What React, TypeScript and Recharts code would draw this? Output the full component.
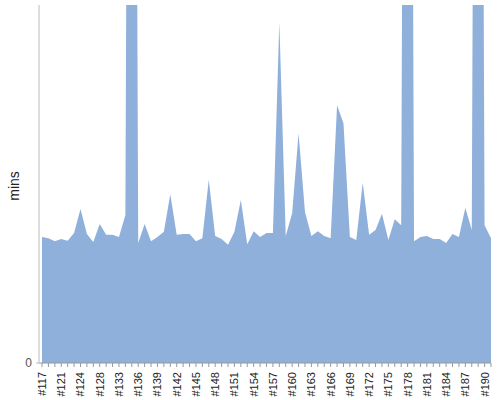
import { AreaChart, Area, XAxis, YAxis } from 'recharts';

// build labels (a few builds missing before #133)
const builds = [
  '#117', '#118', '#120', '#121', '#122', '#123', '#124', '#125', '#127', '#128',
  '#130', '#131', '#133', '#134', '#135', '#136', '#137', '#138', '#139', '#140',
  '#141', '#142', '#143', '#144', '#145', '#146', '#147', '#148', '#149', '#150',
  '#151', '#152', '#153', '#154', '#155', '#156', '#157', '#158', '#159', '#160',
  '#161', '#162', '#163', '#164', '#165', '#166', '#167', '#168', '#169', '#170',
  '#171', '#172', '#173', '#174', '#175', '#176', '#177', '#178', '#179', '#180',
  '#181', '#182', '#183', '#184', '#185', '#186', '#187', '#188', '#189', '#190',
  '#191',
];

// build duration in minutes
const durations = [
  21.1, 20.9, 20.4, 20.8, 20.5, 21.8, 25.8, 21.6, 20.3, 23.3,
  21.5, 21.5, 21.1, 24.8, 300, 20.1, 23.3, 20.4, 21.1, 22.0,
  28.3, 21.5, 21.6, 21.6, 20.4, 20.9, 30.7, 21.3, 20.8, 19.8,
  22.0, 27.3, 19.9, 22.1, 21.1, 21.8, 21.8, 57.1, 21.3, 25.1,
  38.5, 25.3, 21.3, 22.1, 21.3, 20.9, 43.2, 40.2, 21.1, 20.6,
  30.2, 21.5, 22.3, 25.0, 20.6, 24.1, 23.1, 310, 20.4, 21.1,
  21.3, 20.8, 20.8, 20.1, 21.6, 21.1, 26.0, 22.3, 295, 23.1,
  20.9,
];

const yTicks = [0];

const data = builds.map((b, i) => ({ build: b, mins: durations[i] }));

const FONT = '"Liberation Sans", Arial, sans-serif';

function BuildTick(props: any) {
  const { x, y, payload, index } = props;
  if (index % 3 !== 0) return null;
  return (
    <text
      x={x}
      y={y + 3}
      transform={`rotate(-90 ${x} ${y + 3})`}
      textAnchor="end"
      dominantBaseline="central"
      fontSize={11}
      fontFamily={FONT}
      fill="#222"
    >
      {payload.value}
    </text>
  );
}

export default function App() {
  return (
    <div style={{ position: 'absolute', left: 0, top: 0, width: 500, height: 400, background: '#fff' }}>
      <AreaChart
        width={500}
        height={400}
        data={data}
        margin={{ top: 5, right: 9, left: 0, bottom: 0 }}
      >
        <XAxis
          dataKey="build"
          interval={0}
          height={37}
          padding={{ left: 3, right: 0 }}
          stroke="#999"
          tickSize={4}
          tick={<BuildTick />}
        />
        <YAxis
          width={39}
          domain={[0, 60]}
          allowDataOverflow
          ticks={yTicks}
          stroke="#bbb"
          tickSize={3}
          tickMargin={4}
          tick={{ fill: '#555', fontSize: 12, fontFamily: FONT }}
          label={{
            content: () => (
              <text
                x={13.5}
                y={186}
                transform="rotate(-90 13.5 186)"
                textAnchor="middle"
                dominantBaseline="central"
                fontSize={14}
                fontFamily={FONT}
                fill="#222"
              >
                mins
              </text>
            ),
          }}
        />
        <Area
          type="linear"
          dataKey="mins"
          stroke="none"
          fill="#8fb0db"
          fillOpacity={1}
          isAnimationActive={false}
        />
      </AreaChart>
    </div>
  );
}
